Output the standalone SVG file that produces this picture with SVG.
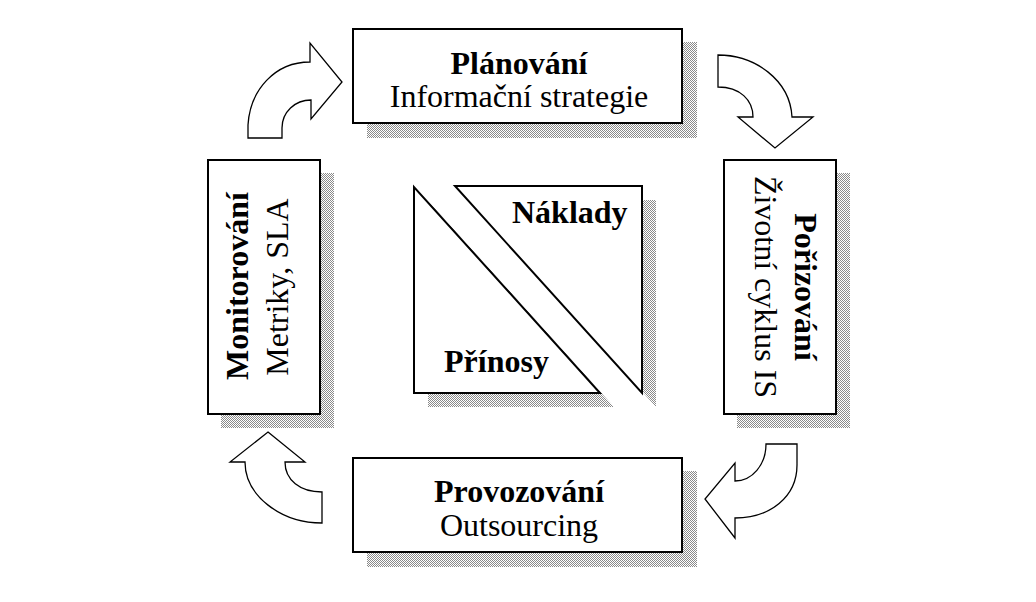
<svg xmlns="http://www.w3.org/2000/svg" width="1036" height="602" viewBox="0 0 1036 602">
<defs>
<pattern id="dither" width="2" height="2" patternUnits="userSpaceOnUse">
<rect width="2" height="2" fill="#ffffff"/>
<rect x="0" y="0" width="1" height="1" fill="#8a8a8a"/>
<rect x="1" y="1" width="1" height="1" fill="#8a8a8a"/>
</pattern>
</defs>
<style>
.box{fill:#fff;stroke:#000;stroke-width:2}
.shadow{fill:url(#dither);stroke:none}
.arrow{fill:#fff;stroke:#000;stroke-width:1.3;stroke-linejoin:miter}
.t{font-family:"Liberation Serif","Times New Roman",serif;font-size:32px;fill:#000}
.b{font-weight:bold}
</style>
<rect width="1036" height="602" fill="#fff"/>

<g id="connectors">
<path class="arrow" d="M248,138 L282,138 L282,128 C282,112 295,100 311,100 L311,119 L342,82 L310,43 L310,62 C275,62 250,90 248,125 Z"/>
<path class="arrow" d="M718,55 C755,55 790,80 792,117 L813,117 L775,148 L738,117 L753,117 C753,100 740,87 718,87 Z"/>
<path class="arrow" d="M766,444 L797,444 L797,465 C797,497 770,518 735,518 L735,538 L705,499 L735,463 L735,481 C752,481 766,465 766,444 Z"/>
<path class="arrow" d="M268,432 L305,462 L285,462 C285,480 300,492 322,492 L322,523 C280,523 245,495 245,462 L230,462 Z"/>
</g>

<g id="planovani">
<rect class="shadow" x="367" y="42" width="330" height="96"/>
<rect class="box" x="353" y="29" width="329" height="94"/>
<text class="t b" x="519" y="74" text-anchor="middle">Plánování</text>
<text class="t" x="519" y="107" text-anchor="middle">Informační strategie</text>
</g>

<g id="porizovani">
<rect class="shadow" x="737" y="173" width="113" height="255"/>
<rect class="box" x="724" y="160" width="112" height="254"/>
<text class="t b" transform="translate(795,287) rotate(90)" text-anchor="middle">Pořizování</text>
<text class="t" transform="translate(755,287) rotate(90)" text-anchor="middle">Životní cyklus IS</text>
</g>

<g id="provozovani">
<rect class="shadow" x="367" y="471" width="330" height="96"/>
<rect class="box" x="353" y="458" width="329" height="94"/>
<text class="t b" x="519" y="502" text-anchor="middle">Provozování</text>
<text class="t" x="519" y="536" text-anchor="middle">Outsourcing</text>
</g>

<g id="monitorovani">
<rect class="shadow" x="221" y="173" width="113" height="255"/>
<rect class="box" x="208" y="160" width="112" height="254"/>
<text class="t b" transform="translate(248,286) rotate(-90)" text-anchor="middle">Monitorování</text>
<text class="t" transform="translate(288,287) rotate(-90)" text-anchor="middle">Metriky, SLA</text>
</g>

<g id="naklady-prinosy">
<polygon class="shadow" points="469,200 656,200 656,407"/>
<polygon class="shadow" points="428,201 428,407 614,407"/>
<polygon class="box" points="455,186 642,186 642,393"/>
<polygon class="box" points="414,187 414,393 600,393"/>
<text class="t b" x="512" y="223">Náklady</text>
<text class="t b" x="444" y="372">Přínosy</text>
</g>
</svg>
